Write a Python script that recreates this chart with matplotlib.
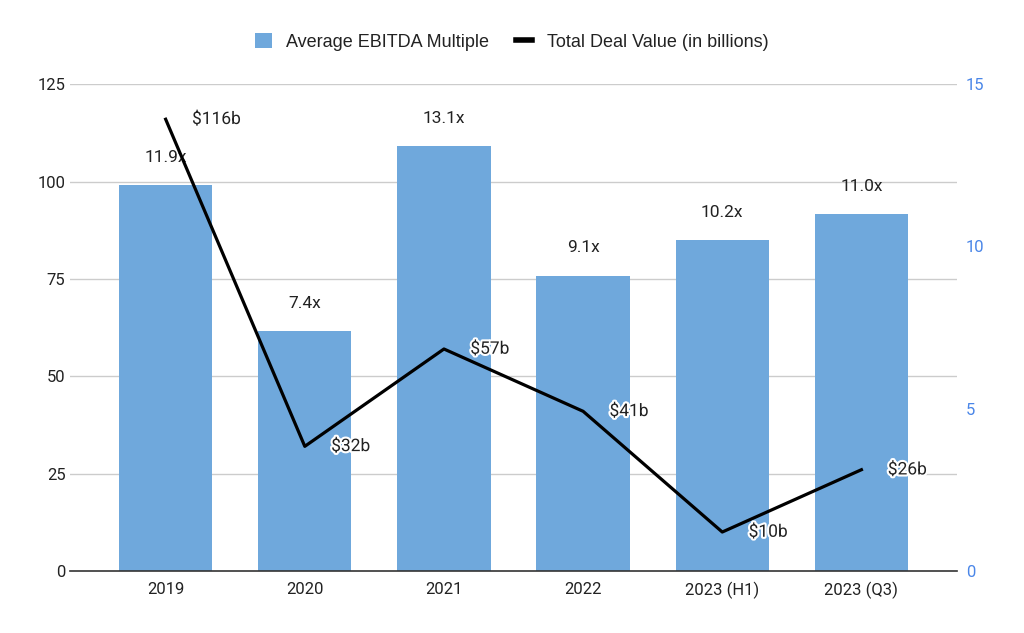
import numpy as np
import matplotlib.pyplot as plt
import matplotlib.patheffects as pe
from matplotlib.patches import Patch
from matplotlib.lines import Line2D

plt.rcParams['font.family'] = ['Roboto', 'DejaVu Sans']

# data
periods = ['2019', '2020', '2021', '2022', '2023 (H1)', '2023 (Q3)']
ebitda_multiple = [11.9, 7.4, 13.1, 9.1, 10.2, 11.0]
deal_value = [116, 32, 57, 41, 10, 26]
left_ticks = [0, 25, 50, 75, 100, 125]
right_ticks = [0, 5, 10, 15]

bar_color = '#6fa8dc'
right_color = '#4a86e8'
grid_color = '#cccccc'

fig = plt.figure(figsize=(10.24, 6.33), dpi=100)
ax = fig.add_axes([0.068, 0.098, 0.867, 0.769])  # bars, right axis
ax2 = ax.twinx()                                  # line, left axis

x = np.arange(len(periods))

# gridlines drawn on the bar axes so bars cover them
for t in left_ticks[1:]:
    ax.axhline(t * right_ticks[-1] / left_ticks[-1], color=grid_color, lw=1, zorder=0)

ax.bar(x, ebitda_multiple, width=0.67, color=bar_color, zorder=2)
for xi, v in zip(x, ebitda_multiple):
    ax.annotate(f'{v:.1f}x', (xi, v), xytext=(0, 20), textcoords='offset points',
                ha='center', va='center', fontsize=12.5, color='#222222')

ax2.plot(x, deal_value, color='black', lw=2.3, zorder=3)
for xi, v in zip(x, deal_value):
    ax2.annotate(f'${v}b', (xi, v), xytext=(19, 0), textcoords='offset points',
                 ha='left', va='center', fontsize=12.5, color='#222222',
                 path_effects=[pe.withStroke(linewidth=3, foreground='white')])

ax.set_xlim(-0.69, 5.69)
ax.set_ylim(0, 15)
ax2.set_ylim(0, 125)
ax.set_yticks(right_ticks)
ax2.set_yticks(left_ticks)
ax.set_xticks(x)
ax.set_xticklabels(periods)

ax.yaxis.tick_right()
ax2.yaxis.tick_left()
ax.tick_params(axis='y', length=0, labelsize=12, labelcolor=right_color, pad=6)
ax2.tick_params(axis='y', length=0, labelsize=12, labelcolor='#222222', pad=3)
ax.tick_params(axis='x', length=0, labelsize=12, labelcolor='#222222', pad=8)

for a in (ax, ax2):
    for s in ['top', 'left', 'right', 'bottom']:
        a.spines[s].set_visible(False)
ax.spines['bottom'].set_visible(True)
ax.spines['bottom'].set_color('#333333')
ax.spines['bottom'].set_linewidth(1.2)

handles = [Patch(facecolor=bar_color, edgecolor='none'),
           Line2D([0], [0], color='black', lw=4)]
fig.legend(handles, ['Average EBITDA Multiple', 'Total Deal Value (in billions)'],
           loc='center', bbox_to_anchor=(0.5, 0.934), ncol=2, frameon=False,
           prop={'family': 'Liberation Sans', 'size': 13},
           handlelength=0.9, handleheight=0.9, columnspacing=1.5,
           handletextpad=0.8, labelcolor='#222222')

fig.savefig('out.png', dpi=100)
